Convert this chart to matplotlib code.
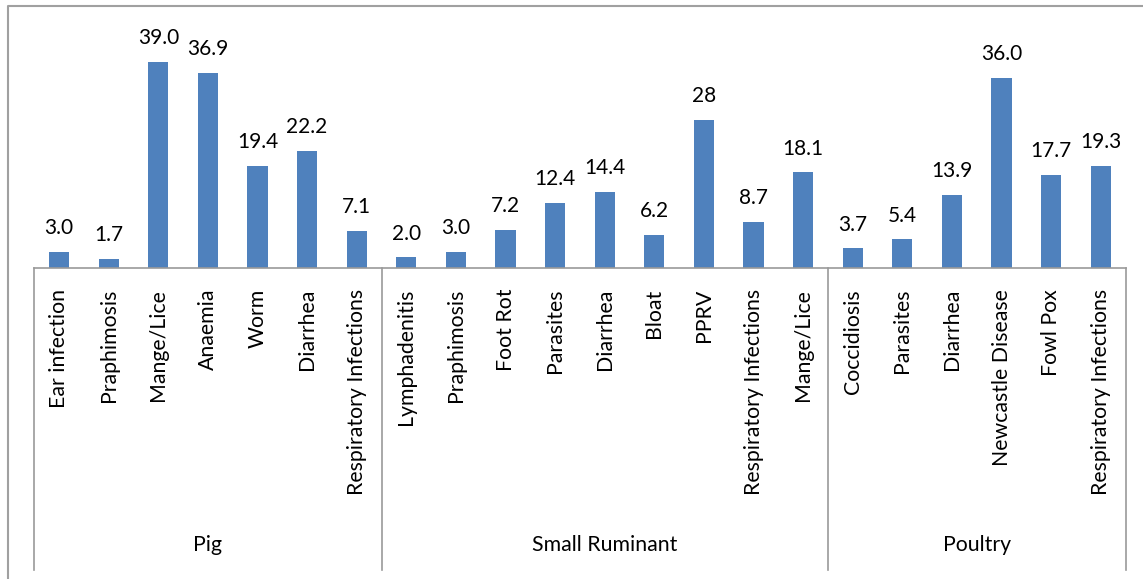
import matplotlib.pyplot as plt
from matplotlib.lines import Line2D
import matplotlib.transforms as mtransforms

plt.rcParams['font.family'] = ['Lato', 'DejaVu Sans']

groups = ["Pig", "Small Ruminant", "Poultry"]
pig_diseases = ["Ear infection", "Praphimosis", "Mange/Lice", "Anaemia", "Worm",
                "Diarrhea", "Respiratory Infections"]
pig_values = [3.0, 1.7, 39.0, 36.9, 19.4, 22.2, 7.1]
ruminant_diseases = ["Lymphadenitis", "Praphimosis", "Foot Rot", "Parasites", "Diarrhea",
                     "Bloat", "PPRV", "Respiratory Infections", "Mange/Lice"]
ruminant_values = [2.0, 3.0, 7.2, 12.4, 14.4, 6.2, 28, 8.7, 18.1]
poultry_diseases = ["Coccidiosis", "Parasites", "Diarrhea", "Newcastle Disease",
                    "Fowl Pox", "Respiratory Infections"]
poultry_values = [3.7, 5.4, 13.9, 36.0, 17.7, 19.3]
value_labels = ["3.0", "1.7", "39.0", "36.9", "19.4", "22.2", "7.1",
                "2.0", "3.0", "7.2", "12.4", "14.4", "6.2", "28", "8.7", "18.1",
                "3.7", "5.4", "13.9", "36.0", "17.7", "19.3"]

group_items = [pig_diseases, ruminant_diseases, poultry_diseases]
labels = pig_diseases + ruminant_diseases + poultry_diseases
values = pig_values + ruminant_values + poultry_values

W, H = 1143, 579
fig = plt.figure(figsize=(W / 100, H / 100), dpi=100)
ax = fig.add_axes([34.3 / W, 1 - 268 / H, (1125.5 - 34.3) / W, (268 - 30.4) / H])

x = list(range(len(values)))
ax.bar(x, values, width=0.41, color="#4F81BD")
ax.set_xlim(-0.5, len(values) - 0.5)
ax.set_ylim(0, 45)

for xi, v, txt in zip(x, values, value_labels):
    ax.annotate(txt, (xi, v), xytext=(0, 10), textcoords="offset points",
                ha="center", va="bottom", fontsize=15, color="black")

for s in ["top", "left", "right"]:
    ax.spines[s].set_visible(False)
ax.spines["bottom"].set_color("#9a9a9a")
ax.spines["bottom"].set_linewidth(1.2)
ax.set_yticks([])
ax.set_xticks([])

# two-level category axis below the bars
trans = mtransforms.blended_transform_factory(ax.transData, ax.transAxes)
ax_h = 268 - 30.4
y_bottom = (268 - 570) / ax_h
y_labels = (268 - 289) / ax_h
y_groups = (268 - 545) / ax_h

for xi, lab in zip(x, labels):
    ax.text(xi, y_labels, lab, transform=trans, rotation=90, ha="center", va="top",
            fontsize=15.3, color="black")

start = 0
bounds = [-0.5]
for name, items in zip(groups, group_items):
    end = start + len(items)
    ax.text((start + end - 1) / 2, y_groups, name, transform=trans, ha="center",
            va="center", fontsize=15.3, color="black")
    bounds.append(end - 0.5)
    start = end

for b in bounds:
    ax.add_line(Line2D([b, b], [0, y_bottom], transform=trans, color="#9a9a9a",
                       linewidth=1.2, clip_on=False))

# chart area border
fig.add_artist(Line2D([8 / W, 8 / W, 1.0], [0.0, 1 - 6 / H, 1 - 6 / H],
                      transform=fig.transFigure, color="#a0a0a0", linewidth=1.5))

fig.savefig("out.png", dpi=100)
